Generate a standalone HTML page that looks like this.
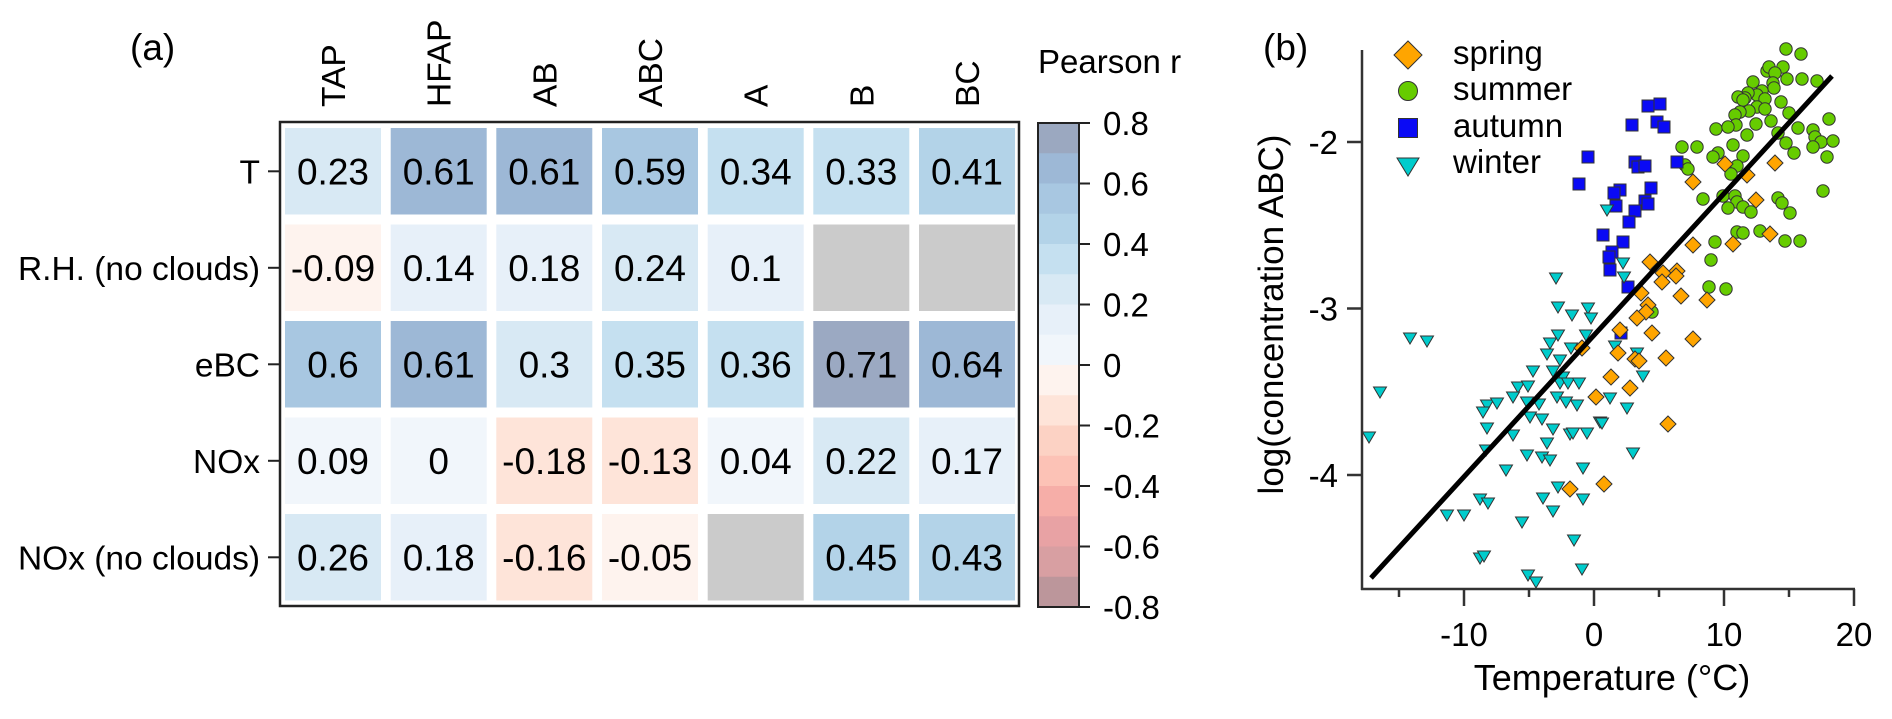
<!DOCTYPE html>
<html><head><meta charset="utf-8">
<style>
html,body{margin:0;padding:0;background:#fff;}
svg{display:block;font-family:"Liberation Sans",Arial,sans-serif;}
</style></head>
<body>
<svg width="1892" height="719" viewBox="0 0 1892 719" xmlns="http://www.w3.org/2000/svg">
<defs>
<path id="d" d="M0,-8 L8,0 L0,8 L-8,0Z" fill="#FFA500" stroke="#333" stroke-width="1"/>
<circle id="c" r="6.2" fill="#66CC00" stroke="#333" stroke-width="1"/>
<rect id="s" x="-6" y="-6" width="12" height="12" fill="#0A0AF5" stroke="#333" stroke-width="1"/>
<path id="t" d="M-6.5,-5 L6.5,-5 L0,6Z" fill="#00CCCC" stroke="#333" stroke-width="1"/>
</defs>
<rect width="1892" height="719" fill="#fff"/>

<!-- Panel (a) -->
<text x="130" y="60" font-size="37">(a)</text>

<!-- column labels -->
<g font-size="33.5">
<text transform="translate(345,107) rotate(-90)">TAP</text>
<text transform="translate(450.7,107) rotate(-90)">HFAP</text>
<text transform="translate(556.3,107) rotate(-90)">AB</text>
<text transform="translate(662,107) rotate(-90)">ABC</text>
<text transform="translate(767.7,107) rotate(-90)">A</text>
<text transform="translate(873.3,107) rotate(-90)">B</text>
<text transform="translate(979,107) rotate(-90)">BC</text>
</g>

<!-- row labels -->
<g font-size="33.5" text-anchor="end">
<text x="260" y="183.3">T</text>
<text x="260" y="279.8">R.H. (no clouds)</text>
<text x="260" y="376.3">eBC</text>
<text x="260" y="472.8">NOx</text>
<text x="260" y="569.3">NOx (no clouds)</text>
</g>
<g stroke="#222" stroke-width="2">
<line x1="268" y1="171.3" x2="280" y2="171.3"/>
<line x1="268" y1="267.8" x2="280" y2="267.8"/>
<line x1="268" y1="364.3" x2="280" y2="364.3"/>
<line x1="268" y1="460.8" x2="280" y2="460.8"/>
<line x1="268" y1="557.3" x2="280" y2="557.3"/>
</g>

<!-- cells -->
<g>
<rect x="285" y="128" width="96" height="86.5" fill="#D8E9F4"/>
<rect x="390.7" y="128" width="96" height="86.5" fill="#9DB8D6"/>
<rect x="496.3" y="128" width="96" height="86.5" fill="#9DB8D6"/>
<rect x="602" y="128" width="96" height="86.5" fill="#A8C7E1"/>
<rect x="707.7" y="128" width="96" height="86.5" fill="#C5E0F0"/>
<rect x="813.3" y="128" width="96" height="86.5" fill="#C5E0F0"/>
<rect x="919" y="128" width="96" height="86.5" fill="#B3D3E8"/>

<rect x="285" y="224.5" width="96" height="86.5" fill="#FEF3EE"/>
<rect x="390.7" y="224.5" width="96" height="86.5" fill="#E7F0F9"/>
<rect x="496.3" y="224.5" width="96" height="86.5" fill="#E7F0F9"/>
<rect x="602" y="224.5" width="96" height="86.5" fill="#D8E9F4"/>
<rect x="707.7" y="224.5" width="96" height="86.5" fill="#E7F0F9"/>
<rect x="813.3" y="224.5" width="96" height="86.5" fill="#CBCBCB"/>
<rect x="919" y="224.5" width="96" height="86.5" fill="#CBCBCB"/>

<rect x="285" y="321" width="96" height="86.5" fill="#A8C7E1"/>
<rect x="390.7" y="321" width="96" height="86.5" fill="#9DB8D6"/>
<rect x="496.3" y="321" width="96" height="86.5" fill="#D8E9F4"/>
<rect x="602" y="321" width="96" height="86.5" fill="#C5E0F0"/>
<rect x="707.7" y="321" width="96" height="86.5" fill="#C5E0F0"/>
<rect x="813.3" y="321" width="96" height="86.5" fill="#9BA9C2"/>
<rect x="919" y="321" width="96" height="86.5" fill="#9DB8D6"/>

<rect x="285" y="417.5" width="96" height="86.5" fill="#F1F6FB"/>
<rect x="390.7" y="417.5" width="96" height="86.5" fill="#F1F6FB"/>
<rect x="496.3" y="417.5" width="96" height="86.5" fill="#FEE4D9"/>
<rect x="602" y="417.5" width="96" height="86.5" fill="#FEE4D9"/>
<rect x="707.7" y="417.5" width="96" height="86.5" fill="#F1F6FB"/>
<rect x="813.3" y="417.5" width="96" height="86.5" fill="#D8E9F4"/>
<rect x="919" y="417.5" width="96" height="86.5" fill="#E7F0F9"/>

<rect x="285" y="514" width="96" height="86.5" fill="#D8E9F4"/>
<rect x="390.7" y="514" width="96" height="86.5" fill="#E7F0F9"/>
<rect x="496.3" y="514" width="96" height="86.5" fill="#FEE4D9"/>
<rect x="602" y="514" width="96" height="86.5" fill="#FEF3EE"/>
<rect x="707.7" y="514" width="96" height="86.5" fill="#CBCBCB"/>
<rect x="813.3" y="514" width="96" height="86.5" fill="#B3D3E8"/>
<rect x="919" y="514" width="96" height="86.5" fill="#B3D3E8"/>
</g>

<!-- cell values -->
<g font-size="37" text-anchor="middle">
<text x="333" y="184.3">0.23</text>
<text x="438.7" y="184.3">0.61</text>
<text x="544.3" y="184.3">0.61</text>
<text x="650" y="184.3">0.59</text>
<text x="755.7" y="184.3">0.34</text>
<text x="861.3" y="184.3">0.33</text>
<text x="967" y="184.3">0.41</text>

<text x="333" y="280.8">-0.09</text>
<text x="438.7" y="280.8">0.14</text>
<text x="544.3" y="280.8">0.18</text>
<text x="650" y="280.8">0.24</text>
<text x="755.7" y="280.8">0.1</text>

<text x="333" y="377.3">0.6</text>
<text x="438.7" y="377.3">0.61</text>
<text x="544.3" y="377.3">0.3</text>
<text x="650" y="377.3">0.35</text>
<text x="755.7" y="377.3">0.36</text>
<text x="861.3" y="377.3">0.71</text>
<text x="967" y="377.3">0.64</text>

<text x="333" y="473.8">0.09</text>
<text x="438.7" y="473.8">0</text>
<text x="544.3" y="473.8">-0.18</text>
<text x="650" y="473.8">-0.13</text>
<text x="755.7" y="473.8">0.04</text>
<text x="861.3" y="473.8">0.22</text>
<text x="967" y="473.8">0.17</text>

<text x="333" y="570.3">0.26</text>
<text x="438.7" y="570.3">0.18</text>
<text x="544.3" y="570.3">-0.16</text>
<text x="650" y="570.3">-0.05</text>
<text x="861.3" y="570.3">0.45</text>
<text x="967" y="570.3">0.43</text>
</g>

<rect x="280" y="122" width="739" height="484" fill="none" stroke="#222" stroke-width="2.5"/>

<!-- colorbar -->
<text x="1038" y="73" font-size="33">Pearson r</text>
<g>
<rect x="1038" y="123" width="41" height="30.5" fill="#9BA8C0"/>
<rect x="1038" y="153.25" width="41" height="30.5" fill="#9DB8D6"/>
<rect x="1038" y="183.5" width="41" height="30.5" fill="#A8C7E1"/>
<rect x="1038" y="213.75" width="41" height="30.5" fill="#B3D3E8"/>
<rect x="1038" y="244" width="41" height="30.5" fill="#C5E0F0"/>
<rect x="1038" y="274.25" width="41" height="30.5" fill="#D8E9F4"/>
<rect x="1038" y="304.5" width="41" height="30.5" fill="#E7F0F9"/>
<rect x="1038" y="334.75" width="41" height="30.5" fill="#F1F6FB"/>
<rect x="1038" y="365" width="41" height="30.5" fill="#FEF3EE"/>
<rect x="1038" y="395.25" width="41" height="30.5" fill="#FEE4D9"/>
<rect x="1038" y="425.5" width="41" height="30.5" fill="#FCD2C4"/>
<rect x="1038" y="455.75" width="41" height="30.5" fill="#FCC2B6"/>
<rect x="1038" y="486" width="41" height="30.5" fill="#F6AEA8"/>
<rect x="1038" y="516.25" width="41" height="30.5" fill="#E8A2A4"/>
<rect x="1038" y="546.5" width="41" height="30.5" fill="#D89FA2"/>
<rect x="1038" y="576.75" width="41" height="30.25" fill="#BC969B"/>
</g>
<rect x="1038" y="123" width="41" height="484" fill="none" stroke="#222" stroke-width="2"/>
<g stroke="#222" stroke-width="2">
<line x1="1079" y1="123" x2="1090" y2="123"/>
<line x1="1079" y1="183.5" x2="1090" y2="183.5"/>
<line x1="1079" y1="244" x2="1090" y2="244"/>
<line x1="1079" y1="304.5" x2="1090" y2="304.5"/>
<line x1="1079" y1="365" x2="1090" y2="365"/>
<line x1="1079" y1="425.5" x2="1090" y2="425.5"/>
<line x1="1079" y1="486" x2="1090" y2="486"/>
<line x1="1079" y1="546.5" x2="1090" y2="546.5"/>
<line x1="1079" y1="607" x2="1090" y2="607"/>
</g>
<g font-size="33">
<text x="1103" y="135">0.8</text>
<text x="1103" y="195.5">0.6</text>
<text x="1103" y="256">0.4</text>
<text x="1103" y="316.5">0.2</text>
<text x="1103" y="377">0</text>
<text x="1103" y="437.5">-0.2</text>
<text x="1103" y="498">-0.4</text>
<text x="1103" y="558.5">-0.6</text>
<text x="1103" y="619">-0.8</text>
</g>

<!-- Panel (b) -->
<text x="1263" y="60" font-size="37">(b)</text>
<text transform="translate(1283,314.5) rotate(-90)" font-size="35" text-anchor="middle">log(concentration ABC)</text>
<text x="1612" y="690" font-size="36" text-anchor="middle">Temperature (°C)</text>

<g stroke="#333" stroke-width="2.5" fill="none">
<line x1="1362" y1="50" x2="1362" y2="590"/>
<line x1="1361" y1="589" x2="1855" y2="589"/>
<line x1="1347" y1="142" x2="1362" y2="142"/>
<line x1="1347" y1="308.5" x2="1362" y2="308.5"/>
<line x1="1347" y1="475" x2="1362" y2="475"/>
<line x1="1464" y1="589" x2="1464" y2="606"/>
<line x1="1594" y1="589" x2="1594" y2="606"/>
<line x1="1724" y1="589" x2="1724" y2="606"/>
<line x1="1854" y1="589" x2="1854" y2="606"/>
<line x1="1399" y1="589" x2="1399" y2="597"/>
<line x1="1529" y1="589" x2="1529" y2="597"/>
<line x1="1659" y1="589" x2="1659" y2="597"/>
<line x1="1789" y1="589" x2="1789" y2="597"/>
</g>
<g font-size="33" text-anchor="end">
<text x="1338" y="154">-2</text>
<text x="1338" y="320.5">-3</text>
<text x="1338" y="487">-4</text>
</g>
<g font-size="33" text-anchor="middle">
<text x="1464" y="646">-10</text>
<text x="1594" y="646">0</text>
<text x="1724" y="646">10</text>
<text x="1854" y="646">20</text>
</g>

<!-- summer -->
<g>
<use href="#c" x="1786" y="49"/><use href="#c" x="1801" y="54"/><use href="#c" x="1767" y="71"/><use href="#c" x="1769" y="67"/><use href="#c" x="1783" y="67"/><use href="#c" x="1775" y="73"/><use href="#c" x="1787" y="79"/><use href="#c" x="1802" y="79"/><use href="#c" x="1817" y="81"/><use href="#c" x="1753" y="82"/><use href="#c" x="1773" y="83"/><use href="#c" x="1774" y="88"/><use href="#c" x="1762" y="91"/><use href="#c" x="1757" y="95"/><use href="#c" x="1748" y="93"/><use href="#c" x="1745" y="98"/><use href="#c" x="1738" y="97"/><use href="#c" x="1743" y="100"/><use href="#c" x="1765" y="99"/><use href="#c" x="1781" y="102"/><use href="#c" x="1757" y="107"/><use href="#c" x="1765" y="109"/><use href="#c" x="1749" y="111"/><use href="#c" x="1740" y="112"/><use href="#c" x="1735" y="115"/><use href="#c" x="1736" y="125"/><use href="#c" x="1789" y="113"/><use href="#c" x="1771" y="121"/><use href="#c" x="1756" y="124"/><use href="#c" x="1829" y="119"/><use href="#c" x="1716" y="129"/><use href="#c" x="1728" y="127"/><use href="#c" x="1798" y="128"/><use href="#c" x="1813" y="130"/><use href="#c" x="1747" y="135"/><use href="#c" x="1778" y="133"/><use href="#c" x="1815" y="137"/><use href="#c" x="1821" y="142"/><use href="#c" x="1833" y="141"/><use href="#c" x="1813" y="147"/><use href="#c" x="1786" y="143"/><use href="#c" x="1794" y="153"/><use href="#c" x="1827" y="157"/><use href="#c" x="1682" y="147"/><use href="#c" x="1697" y="147"/><use href="#c" x="1733" y="145"/><use href="#c" x="1718" y="153"/><use href="#c" x="1713" y="157"/><use href="#c" x="1743" y="156"/><use href="#c" x="1737" y="166"/><use href="#c" x="1731" y="174"/><use href="#c" x="1685" y="165"/><use href="#c" x="1688" y="169"/><use href="#c" x="1823" y="191"/><use href="#c" x="1703" y="199"/><use href="#c" x="1723" y="196"/><use href="#c" x="1735" y="196"/><use href="#c" x="1737" y="202"/><use href="#c" x="1728" y="208"/><use href="#c" x="1743" y="207"/><use href="#c" x="1751" y="212"/><use href="#c" x="1778" y="198"/><use href="#c" x="1782" y="203"/><use href="#c" x="1790" y="213"/><use href="#c" x="1737" y="232"/><use href="#c" x="1743" y="233"/><use href="#c" x="1760" y="231"/><use href="#c" x="1785" y="241"/><use href="#c" x="1800" y="241"/><use href="#c" x="1715" y="242"/><use href="#c" x="1711" y="260"/><use href="#c" x="1709" y="287"/><use href="#c" x="1726" y="289"/><use href="#c" x="1652" y="312"/>
</g>
<!-- autumn -->
<g>
<use href="#s" x="1648" y="106"/><use href="#s" x="1660" y="104"/><use href="#s" x="1632" y="125"/><use href="#s" x="1657" y="122"/><use href="#s" x="1664" y="127"/><use href="#s" x="1588" y="157"/><use href="#s" x="1635" y="162"/><use href="#s" x="1638" y="167"/><use href="#s" x="1645" y="166"/><use href="#s" x="1677" y="162"/><use href="#s" x="1579" y="184"/><use href="#s" x="1620" y="190"/><use href="#s" x="1614" y="193"/><use href="#s" x="1651" y="188"/><use href="#s" x="1616" y="206"/><use href="#s" x="1645" y="201"/><use href="#s" x="1648" y="204"/><use href="#s" x="1635" y="211"/><use href="#s" x="1629" y="222"/><use href="#s" x="1603" y="235"/><use href="#s" x="1623" y="242"/><use href="#s" x="1612" y="252"/><use href="#s" x="1609" y="257"/><use href="#s" x="1610" y="270"/><use href="#s" x="1628" y="287"/><use href="#s" x="1621" y="333"/>
</g>
<!-- winter -->
<g>
<use href="#t" x="1607" y="210"/><use href="#t" x="1623" y="263"/><use href="#t" x="1624" y="277"/><use href="#t" x="1556" y="278"/><use href="#t" x="1558" y="307"/><use href="#t" x="1572" y="315"/><use href="#t" x="1588" y="308"/><use href="#t" x="1591" y="318"/><use href="#t" x="1410" y="338"/><use href="#t" x="1427" y="341"/><use href="#t" x="1558" y="335"/><use href="#t" x="1586" y="335"/><use href="#t" x="1550" y="343"/><use href="#t" x="1571" y="348"/><use href="#t" x="1547" y="354"/><use href="#t" x="1560" y="360"/><use href="#t" x="1615" y="346"/><use href="#t" x="1637" y="353"/><use href="#t" x="1533" y="371"/><use href="#t" x="1553" y="371"/><use href="#t" x="1563" y="377"/><use href="#t" x="1518" y="387"/><use href="#t" x="1528" y="386"/><use href="#t" x="1513" y="397"/><use href="#t" x="1560" y="383"/><use href="#t" x="1568" y="383"/><use href="#t" x="1579" y="383"/><use href="#t" x="1557" y="397"/><use href="#t" x="1566" y="402"/><use href="#t" x="1577" y="405"/><use href="#t" x="1380" y="392"/><use href="#t" x="1487" y="405"/><use href="#t" x="1497" y="403"/><use href="#t" x="1483" y="412"/><use href="#t" x="1527" y="402"/><use href="#t" x="1539" y="404"/><use href="#t" x="1530" y="417"/><use href="#t" x="1542" y="419"/><use href="#t" x="1600" y="422"/><use href="#t" x="1369" y="437"/><use href="#t" x="1487" y="428"/><use href="#t" x="1513" y="435"/><use href="#t" x="1553" y="429"/><use href="#t" x="1570" y="434"/><use href="#t" x="1573" y="433"/><use href="#t" x="1587" y="433"/><use href="#t" x="1547" y="443"/><use href="#t" x="1486" y="450"/><use href="#t" x="1527" y="455"/><use href="#t" x="1542" y="457"/><use href="#t" x="1550" y="460"/><use href="#t" x="1633" y="453"/><use href="#t" x="1506" y="470"/><use href="#t" x="1583" y="468"/><use href="#t" x="1558" y="487"/><use href="#t" x="1543" y="498"/><use href="#t" x="1480" y="499"/><use href="#t" x="1488" y="503"/><use href="#t" x="1583" y="499"/><use href="#t" x="1553" y="511"/><use href="#t" x="1447" y="515"/><use href="#t" x="1464" y="515"/><use href="#t" x="1522" y="522"/><use href="#t" x="1574" y="540"/><use href="#t" x="1480" y="558"/><use href="#t" x="1484" y="556"/><use href="#t" x="1582" y="569"/><use href="#t" x="1528" y="575"/><use href="#t" x="1536" y="582"/><use href="#t" x="1643" y="376"/><use href="#t" x="1610" y="398"/><use href="#t" x="1627" y="408"/><use href="#t" x="1602" y="423"/>
</g>
<!-- spring -->
<g>
<use href="#d" x="1725" y="164"/><use href="#d" x="1775" y="163"/><use href="#d" x="1747" y="175"/><use href="#d" x="1693" y="182"/><use href="#d" x="1756" y="200"/><use href="#d" x="1770" y="234"/><use href="#d" x="1733" y="244"/><use href="#d" x="1693" y="245"/><use href="#d" x="1650" y="262"/><use href="#d" x="1663" y="273"/><use href="#d" x="1677" y="271"/><use href="#d" x="1676" y="276"/><use href="#d" x="1662" y="282"/><use href="#d" x="1681" y="296"/><use href="#d" x="1707" y="300"/><use href="#d" x="1641" y="293"/><use href="#d" x="1648" y="305"/><use href="#d" x="1646" y="312"/><use href="#d" x="1637" y="318"/><use href="#d" x="1620" y="330"/><use href="#d" x="1652" y="333"/><use href="#d" x="1693" y="339"/><use href="#d" x="1582" y="348"/><use href="#d" x="1618" y="353"/><use href="#d" x="1635" y="359"/><use href="#d" x="1639" y="361"/><use href="#d" x="1666" y="358"/><use href="#d" x="1611" y="377"/><use href="#d" x="1630" y="388"/><use href="#d" x="1596" y="397"/><use href="#d" x="1570" y="489"/><use href="#d" x="1604" y="484"/><use href="#d" x="1668" y="424"/>
</g>

<!-- regression line -->
<line x1="1371" y1="578" x2="1832" y2="76" stroke="#000" stroke-width="5"/>

<!-- legend -->
<path d="M1408,41 L1422,55 L1408,69 L1394,55Z" fill="#FFA500" stroke="#333" stroke-width="1"/>
<circle cx="1408" cy="91" r="9.5" fill="#66CC00" stroke="#333" stroke-width="1"/>
<rect x="1398.5" y="118.5" width="19" height="19" fill="#0A0AF5" stroke="#333" stroke-width="1"/>
<path d="M1397,158 L1419,158 L1408,176Z" fill="#00CCCC" stroke="#333" stroke-width="1"/>
<g font-size="33">
<text x="1453" y="64">spring</text>
<text x="1453" y="100">summer</text>
<text x="1453" y="137">autumn</text>
<text x="1453" y="173">winter</text>
</g>
</svg>
</body></html>
